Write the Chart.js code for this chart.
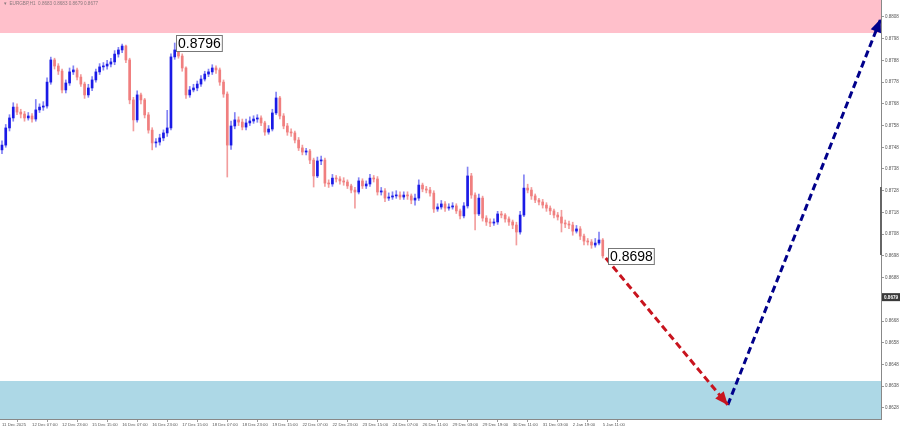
<!DOCTYPE html>
<html><head><meta charset="utf-8">
<script src="https://cdn.jsdelivr.net/npm/chart.js@4/dist/chart.umd.min.js"></script>
<style>html,body{margin:0;padding:0;background:#fff;overflow:hidden}canvas{display:block}</style>
</head><body>
<canvas id="c" width="900" height="429"></canvas>
<script>
const symbolTitle = "EURGBP,H1  0.8683 0.8683 0.8679 0.8677";
const xLabels = ["11 Dec 2025","12 Dec 07:00","12 Dec 23:00","15 Dec 15:00","16 Dec 07:00","16 Dec 23:00","17 Dec 15:00","18 Dec 07:00","18 Dec 23:00","19 Dec 15:00","22 Dec 07:00","22 Dec 23:00","23 Dec 15:00","24 Dec 07:00","26 Dec 11:00","29 Dec 03:00","29 Dec 19:00","30 Dec 11:00","31 Dec 03:00","2 Jan 19:00","5 Jan 11:00"];
const xTickIndex = [0,8,16,24,32,40,48,56,64,72,80,88,96,104,112,120,128,136,144,152,160];
const yTicks = [0.8628,0.8638,0.8648,0.8658,0.8668,0.8678,0.8688,0.8698,0.8708,0.8718,0.8728,0.8738,0.8748,0.8758,0.8768,0.8778,0.8788,0.8798,0.8808];
const xRange = [-0.53, 234.1];
const yRange = [0.86229, 0.88158];

const opens = [.87468,.87490,.87569,.87615,.87665,.87642,.87633,.87615,.87624,.87610,
.87652,.87665,.87670,.87780,.87882,.87854,.87831,.87744,.87776,.87827,
.87836,.87803,.87771,.87721,.87753,.87790,.87827,.87850,.87854,.87863,
.87873,.87909,.87928,.87946,.87882,.87698,.87606,.87721,.87698,.87629,
.87559,.87500,.87504,.87523,.87546,.87569,.87896,.87928,.87900,.87845,
.87721,.87744,.87753,.87771,.87794,.87817,.87827,.87845,.87836,.87780,
.87725,.87490,.87578,.87606,.87596,.87573,.87592,.87601,.87610,.87615,
.87592,.87550,.87564,.87638,.87707,.87624,.87578,.87550,.87546,.87513,
.87477,.87458,.87463,.87421,.87348,.87417,.87421,.87315,.87311,.87338,
.87334,.87325,.87320,.87302,.87283,.87274,.87325,.87302,.87311,.87338,
.87334,.87274,.87279,.87246,.87251,.87256,.87260,.87251,.87260,.87256,
.87237,.87246,.87306,.87288,.87283,.87269,.87196,.87205,.87219,.87200,
.87205,.87210,.87187,.87164,.87210,.87348,.87260,.87173,.87246,.87154,
.87136,.87131,.87136,.87173,.87168,.87150,.87136,.87122,.87090,.87168,
.87292,.87283,.87256,.87237,.87228,.87214,.87200,.87187,.87168,.87159,
.87131,.87127,.87122,.87094,.87104,.87071,.87048,.87044,.87030,.87039,
.87053];
const closes = [.87490,.87569,.87615,.87665,.87642,.87633,.87615,.87624,.87610,.87652,
.87665,.87670,.87780,.87882,.87854,.87831,.87744,.87776,.87827,.87836,
.87803,.87771,.87721,.87753,.87790,.87827,.87850,.87854,.87863,.87873,
.87909,.87928,.87946,.87882,.87698,.87606,.87721,.87698,.87629,.87559,
.87500,.87504,.87523,.87546,.87569,.87896,.87928,.87900,.87845,.87721,
.87744,.87753,.87771,.87794,.87817,.87827,.87845,.87836,.87780,.87725,
.87490,.87578,.87606,.87596,.87573,.87592,.87601,.87610,.87615,.87592,
.87550,.87564,.87638,.87707,.87624,.87578,.87550,.87546,.87513,.87477,
.87458,.87463,.87421,.87348,.87417,.87421,.87315,.87311,.87338,.87334,
.87325,.87320,.87302,.87283,.87274,.87325,.87302,.87311,.87338,.87334,
.87274,.87279,.87246,.87251,.87256,.87260,.87251,.87260,.87256,.87237,
.87246,.87306,.87288,.87283,.87269,.87196,.87205,.87219,.87200,.87205,
.87210,.87187,.87164,.87210,.87348,.87260,.87173,.87246,.87154,.87136,
.87131,.87136,.87173,.87168,.87150,.87136,.87122,.87090,.87168,.87292,
.87283,.87256,.87237,.87228,.87214,.87200,.87187,.87168,.87159,.87131,
.87127,.87122,.87094,.87104,.87071,.87048,.87044,.87030,.87039,.87053,
.86980];
const highs = [.87510,.87585,.87630,.87685,.87680,.87655,.87645,.87640,.87635,.87700,
.87680,.87690,.87800,.87895,.87890,.87865,.87840,.87790,.87845,.87855,
.87845,.87815,.87780,.87770,.87805,.87840,.87865,.87870,.87880,.87890,
.87925,.87940,.87955,.87950,.87890,.87710,.87740,.87730,.87705,.87640,
.87570,.87520,.87540,.87560,.87650,.87910,.87960,.87940,.87910,.87850,
.87760,.87770,.87785,.87810,.87830,.87840,.87860,.87855,.87845,.87790,
.87735,.87600,.87640,.87620,.87610,.87610,.87620,.87625,.87630,.87625,
.87600,.87580,.87655,.87734,.87715,.87635,.87590,.87565,.87555,.87525,
.87490,.87475,.87470,.87430,.87435,.87440,.87430,.87330,.87355,.87350,
.87345,.87340,.87330,.87310,.87295,.87340,.87335,.87325,.87355,.87350,
.87345,.87295,.87290,.87270,.87275,.87280,.87275,.87275,.87275,.87265,
.87265,.87330,.87315,.87300,.87295,.87280,.87220,.87235,.87230,.87220,
.87225,.87220,.87195,.87225,.87389,.87360,.87270,.87265,.87255,.87165,
.87150,.87150,.87185,.87185,.87175,.87160,.87145,.87135,.87185,.87353,
.87310,.87295,.87265,.87245,.87240,.87225,.87210,.87195,.87180,.87190,
.87145,.87140,.87135,.87120,.87115,.87080,.87060,.87055,.87060,.87090,
.87060];
const lows = [.87450,.87480,.87555,.87600,.87630,.87615,.87600,.87605,.87595,.87600,
.87640,.87650,.87660,.87770,.87840,.87815,.87730,.87730,.87765,.87815,
.87790,.87760,.87705,.87710,.87740,.87780,.87815,.87835,.87840,.87850,
.87860,.87895,.87915,.87870,.87680,.87555,.87595,.87680,.87615,.87545,
.87468,.87480,.87490,.87510,.87530,.87560,.87885,.87890,.87830,.87705,
.87710,.87735,.87740,.87760,.87785,.87805,.87815,.87820,.87765,.87710,
.87343,.87470,.87565,.87580,.87560,.87560,.87580,.87590,.87595,.87580,
.87535,.87540,.87555,.87630,.87610,.87565,.87535,.87530,.87500,.87465,
.87445,.87445,.87405,.87297,.87340,.87400,.87300,.87295,.87300,.87320,
.87310,.87305,.87290,.87270,.87200,.87265,.87290,.87290,.87300,.87320,
.87260,.87260,.87230,.87235,.87240,.87245,.87240,.87240,.87240,.87220,
.87214,.87235,.87275,.87270,.87255,.87180,.87185,.87195,.87185,.87190,
.87195,.87175,.87150,.87155,.87200,.87245,.87099,.87165,.87140,.87120,
.87115,.87120,.87125,.87155,.87135,.87120,.87105,.87030,.87080,.87160,
.87270,.87240,.87225,.87215,.87200,.87185,.87170,.87155,.87145,.87090,
.87110,.87105,.87075,.87085,.87055,.87030,.87030,.87015,.87020,.87030,
.86970];

const topZone = [0.88006, 0.88158];
const bottomZone = [0.86229, 0.86404];
const redArrowX = [160.8, 193.3];
const redArrowY = [0.86970, 0.86294];
const blueArrowX = [193.3, 234.0];
const blueArrowY = [0.86294, 0.88070];
const peakLabel = { index: 46, value: 0.8796, text: "0.8796" };
const lastLabel = { index: 160, value: 0.8698, text: "0.8698" };
const axisMarkerValue = 0.8679;
const scrollMark = [0.86984, 0.87297];

const isUp = closes.map((c, i) => c >= opens[i]);
const bodyColors = isUp.map(u => u ? '#1a1ae6' : '#f07f7f');
const wickColors = isUp.map(u => u ? 'rgba(100,100,240,0.8)' : 'rgba(240,140,140,0.85)');
const FONT = '"Liberation Sans", Arial, sans-serif';

const overlay = {
  id: 'overlay',
  beforeDraw(chart) {
    const c = chart.ctx; c.save(); c.fillStyle = '#fff'; c.fillRect(0, 0, chart.width, chart.height); c.restore();
  },
  beforeDatasetsDraw(chart) {
    const { ctx, chartArea: a, scales: { y } } = chart;
    ctx.save();
    const band = (z, col) => {
      const t = y.getPixelForValue(z[1]), b = y.getPixelForValue(z[0]);
      ctx.fillStyle = col; ctx.fillRect(a.left, t, a.right - a.left, b - t);
    };
    band(topZone, '#ffc0cb');
    band(bottomZone, '#add8e6');
    ctx.fillStyle = '#8a7a7e';
    ctx.font = '4.6px ' + FONT;
    ctx.textBaseline = 'middle';
    ctx.fillText('\u25BE  ' + symbolTitle, 4, 4);
    ctx.restore();
  },
  afterDatasetsDraw(chart) {
    const { ctx, scales: { x, y } } = chart;
    ctx.save();
    [[2, '#c8141e'], [3, '#00008b']].forEach(([k, col]) => {
      const m = chart.getDatasetMeta(k);
      const p0 = m.data[0], p1 = m.data[1];
      const ang = Math.atan2(p1.y - p0.y, p1.x - p0.x);
      const L = 13, W = 5.5;
      const bx = p1.x - L * Math.cos(ang), by = p1.y - L * Math.sin(ang);
      ctx.fillStyle = col;
      ctx.beginPath();
      ctx.moveTo(p1.x, p1.y);
      ctx.lineTo(bx - W * Math.sin(ang), by + W * Math.cos(ang));
      ctx.lineTo(bx + W * Math.sin(ang), by - W * Math.cos(ang));
      ctx.closePath(); ctx.fill();
    });
    ctx.font = '14px ' + FONT;
    ctx.textBaseline = 'middle';
    [[peakLabel, 1], [lastLabel, 5]].forEach(([lb, dx]) => {
      const px = x.getPixelForValue(lb.index), py = y.getPixelForValue(lb.value);
      const tw = ctx.measureText(lb.text).width;
      const bx = Math.round(px + dx) + 0.5, by = Math.round(py - 8) + 0.5;
      ctx.fillStyle = '#fff';
      ctx.fillRect(bx, by, tw + 3, 16);
      ctx.strokeStyle = '#777'; ctx.lineWidth = 1;
      ctx.strokeRect(bx, by, tw + 3, 16);
      ctx.fillStyle = '#000';
      ctx.fillText(lb.text, bx + 1.5, by + 8.5);
    });
    ctx.restore();
  },
  afterDraw(chart) {
    const { ctx, chartArea: a, scales: { y } } = chart;
    ctx.save();
    const t = y.getPixelForValue(scrollMark[1]), b = y.getPixelForValue(scrollMark[0]);
    ctx.fillStyle = '#666';
    ctx.fillRect(a.right - 1, t, 2, b - t);
    const my = y.getPixelForValue(axisMarkerValue);
    ctx.fillStyle = '#3a3a3a';
    ctx.fillRect(a.right + 1, my - 4, chart.width - a.right - 1, 8);
    ctx.fillStyle = '#fff';
    ctx.font = 'bold 4.6px ' + FONT;
    ctx.textBaseline = 'middle';
    ctx.fillText(axisMarkerValue.toFixed(4), a.right + 3, my + 0.5);
    ctx.restore();
  }
};

new Chart(document.getElementById('c'), {
  type: 'bar',
  data: {
    datasets: [
      { type: 'bar', label: 'bodies', data: closes.map((c, i) => ({ x: i, y: [opens[i], c] })),
        backgroundColor: bodyColors, barThickness: 2, grouped: false, minBarLength: 1, order: 1 },
      { type: 'bar', label: 'wicks', data: closes.map((c, i) => ({ x: i, y: [lows[i], highs[i]] })),
        backgroundColor: wickColors, barThickness: 1, grouped: false, order: 2 },
      { type: 'line', label: 'down', data: redArrowX.map((v, i) => ({ x: v, y: redArrowY[i] })),
        borderColor: '#c8141e', borderWidth: 3, borderDash: [7, 4], pointRadius: 0, fill: false, order: 0 },
      { type: 'line', label: 'up', data: blueArrowX.map((v, i) => ({ x: v, y: blueArrowY[i] })),
        borderColor: '#00008b', borderWidth: 3, borderDash: [7, 4], pointRadius: 0, fill: false, order: 0 }
    ]
  },
  options: {
    responsive: false,
    animation: false,
    events: [],
    layout: { padding: 0 },
    plugins: { legend: { display: false }, tooltip: { enabled: false }, title: { display: false } },
    scales: {
      x: {
        type: 'linear', min: xRange[0], max: xRange[1], offset: false,
        grid: { drawOnChartArea: false, drawTicks: true, tickLength: 3, color: '#999' },
        border: { display: true, color: '#888' },
        ticks: { autoSkip: false, maxRotation: 0, minRotation: 0, align: 'start', padding: 0,
          font: { size: 4.3, family: FONT }, color: '#555', callback: (v, idx) => xLabels[idx] },
        afterBuildTicks: s => { s.ticks = xTickIndex.map(v => ({ value: v })); },
        afterFit: s => { s.height = 10; s.paddingLeft = 0; s.paddingRight = 0; }
      },
      y: {
        type: 'linear', position: 'right', min: yRange[0], max: yRange[1],
        grid: { drawOnChartArea: false, drawTicks: true, tickLength: 3, color: '#999' },
        border: { display: true, color: '#888' },
        ticks: { autoSkip: false, padding: 1, font: { size: 4.5, family: FONT }, color: '#555',
          callback: v => Number(v).toFixed(4) },
        afterBuildTicks: s => { s.ticks = yTicks.map(v => ({ value: v })); },
        afterFit: s => { s.width = 19; s.paddingTop = 0; s.paddingBottom = 0; }
      }
    }
  },
  plugins: [overlay]
});
</script>
</body></html>
